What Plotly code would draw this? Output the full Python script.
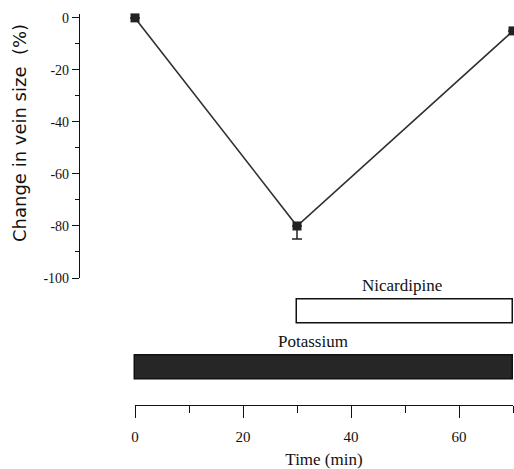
import plotly.graph_objects as go

# Data
time_min = [0, 30, 70]
vein_change = [0, -80, -5]
err_minus = [0, 5, 0]
err_plus = [0, 0, 0]

bar_labels = ["Potassium", "Nicardipine"]
bar_start = [0, 30]
bar_end = [70, 70]
bar_fill = ["#262626", "white"]

y_ticks = [0, -20, -40, -60, -80, -100]
x_ticks = [0, 20, 40, 60]
x_minor = [10, 30, 50, 70]

W, H = 514, 469
SERIF = "Liberation Serif, Times New Roman, serif"
SANS = "DejaVu Sans, sans-serif"

def fy(px):
    return (H - px) / H

# main x scale: t=0 -> 135 px, t=70 -> 513 px
x0_px, x70_px = 135.0, 513.0
ppu = (x70_px - x0_px) / 70.0
left_px = 79.0
xr = [-(x0_px - left_px) / ppu, (W - x0_px) / ppu]
xdom = [left_px / W, 1.0]

fig = go.Figure()

fig.add_trace(go.Scatter(
    x=time_min, y=vein_change, mode="lines+markers",
    line=dict(color="#303030", width=1.6),
    marker=dict(symbol="square", size=9, color="#222222"),
    error_y=dict(type="data", symmetric=False, array=err_plus, arrayminus=err_minus,
                 color="#222222", thickness=1.5, width=5),
    xaxis="x", yaxis="y", showlegend=False, cliponaxis=False,
))

fig.add_trace(go.Bar(
    y=[0, 1], x=[e - s for s, e in zip(bar_start, bar_end)], base=bar_start,
    orientation="h", width=0.44,
    marker=dict(color=bar_fill, line=dict(color="#111111", width=1.5)),
    xaxis="x", yaxis="y3", showlegend=False,
))

# time axis carrier (invisible) so the axis is drawn
fig.add_trace(go.Scatter(
    x=[bar_start[0], bar_end[0]], y=[0, 0], mode="lines", line=dict(width=0, color="rgba(0,0,0,0)"),
    xaxis="x2", yaxis="y4", showlegend=False, hoverinfo="skip",
))

# bar labels
label_pos = [(33, 0.47), (49.4, 1.47)]
for lab, (lx, ly) in zip(bar_labels, label_pos):
    fig.add_annotation(
        x=lx, y=ly, xref="x", yref="y3", text=lab, showarrow=False,
        font=dict(family=SERIF, size=17, color="#111111"),
    )

fig.add_annotation(
    x=19 / W, y=fy(133), xref="paper", yref="paper", xanchor="center", yanchor="middle",
    text="Change in vein size  (%)", textangle=-90, showarrow=False,
    font=dict(family=SANS, size=18, color="#111111"),
)

fig.update_layout(
    width=W, height=H, margin=dict(l=0, r=0, t=0, b=0, autoexpand=False),
    paper_bgcolor="white", plot_bgcolor="white",
    font=dict(family=SERIF, size=14, color="#111111"),
    bargap=0,
    xaxis=dict(domain=xdom, range=xr, visible=False, anchor="y", automargin=False),
    yaxis=dict(domain=[fy(278), fy(14)], range=[-100, 1.5], anchor="free", position=xdom[0],
               automargin=False,
               showline=True, linecolor="#111111", linewidth=1.3,
               ticks="outside", ticklen=7, tickwidth=1.3, tickcolor="#111111",
               tickvals=y_ticks, ticktext=[str(v) for v in y_ticks],
               minor=dict(dtick=10, tick0=0, ticks="outside", ticklen=4, tickwidth=1.2, tickcolor="#111111"),
               showgrid=False, zeroline=False,
               tickfont=dict(family=SERIF, size=14)),
    xaxis2=dict(domain=[x0_px / W, x70_px / W], range=[0, 70], anchor="y4", automargin=False,
                showline=True, linecolor="#111111", linewidth=1.3,
                showgrid=False, zeroline=False,
                ticks="outside", ticklen=12, tickwidth=1.3, tickcolor="#111111",
                tickvals=x_ticks, ticktext=[str(v) for v in x_ticks],
                ticklabelstandoff=6,
                minor=dict(tickvals=x_minor, ticks="outside", ticklen=7, tickwidth=1.2, tickcolor="#111111"),
                title=dict(text="Time (min)", font=dict(family=SERIF, size=17), standoff=12),
                tickfont=dict(family=SERIF, size=15)),
    yaxis3=dict(domain=[fy(395.5), fy(283.5)], range=[-0.5, 1.5], visible=False, anchor="x",
                automargin=False),
    yaxis4=dict(domain=[fy(405), fy(401)], range=[0, 1], visible=False, anchor="x2",
                automargin=False),
)

fig.write_html("out.html")
